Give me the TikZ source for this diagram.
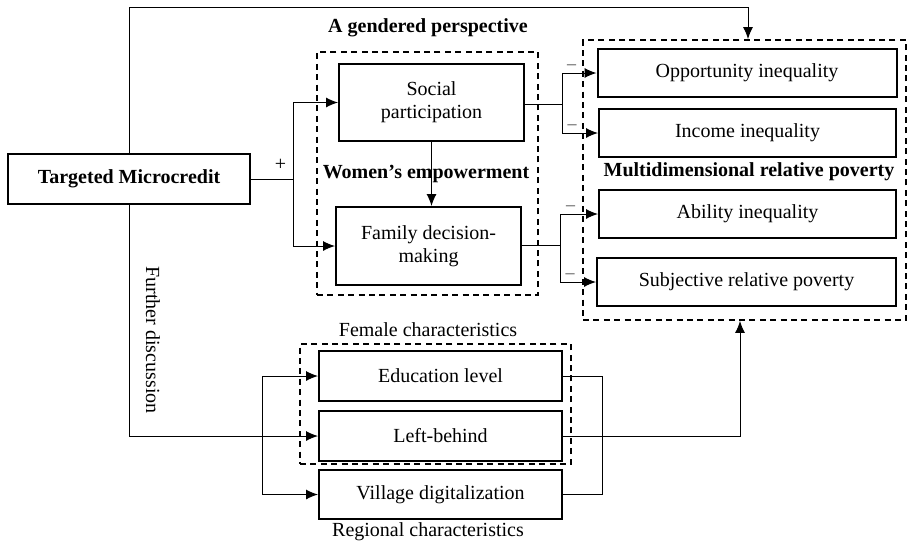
\documentclass[tikz,border=0pt]{standalone}
\usepackage{fontspec}
\setmainfont{Liberation Serif}
\usetikzlibrary{arrows.meta}

\tikzset{
  box/.style={draw, line width=1pt, inner sep=0pt, align=center,
    font=\fontsize{10}{11.5}\selectfont},
  group/.style={draw, dashed, line width=0.9pt, dash pattern=on 3pt off 2.2pt,
    inner sep=0pt},
  label/.style={inner sep=0pt, font=\fontsize{10}{11.5}\selectfont},
  link/.style={line width=0.5pt},
  arr/.style={link, -{Latex[length=6pt,width=5pt]}},
  minus/.style={inner sep=1.5pt, font=\fontsize{9}{10}\selectfont, text=black!70}
}

\begin{document}
\begin{tikzpicture}[x=0.5pt, y=-0.5pt]
  \useasboundingbox (0,0) rectangle (908,541);
  % dashed groups
  \node[group, minimum width=110.5pt, minimum height=121.5pt] (gp) at (427.5,173.5) {};
  \node[group, minimum width=161.5pt, minimum height=140pt] (mp) at (744.5,180) {};
  \node[group, minimum width=135.5pt, minimum height=60pt] (fc) at (435.5,404) {};
  % boxes
  \node[box, minimum width=121pt, minimum height=25pt] (tm) at (129,179) {\textbf{Targeted Microcredit}};
  \node[box, minimum width=92.5pt, minimum height=38.5pt] (sp) at (431.5,102.5) {Social\\participation};
  \node[box, minimum width=92.5pt, minimum height=39pt] (fd) at (428.5,246) {Family decision-\\making};
  \node[box, minimum width=149.5pt, minimum height=24pt] (op) at (747,73) {Opportunity inequality};
  \node[box, minimum width=148.5pt, minimum height=24pt] (ic) at (747.5,133) {Income inequality};
  \node[box, minimum width=148.5pt, minimum height=24pt] (ab) at (747.5,214) {Ability inequality};
  \node[box, minimum width=149.5pt, minimum height=24pt] (sr) at (746.5,282) {Subjective relative poverty};
  \node[box, minimum width=121.5pt, minimum height=25pt] (ed) at (440.5,376) {Education level};
  \node[box, minimum width=121.5pt, minimum height=25pt] (lb) at (440.5,436) {Left-behind};
  \node[box, minimum width=121.5pt, minimum height=24.5pt] (vd) at (440.5,494.5) {Village digitalization};
  % titles
  \node[label] (gpt) at (428,28) {\textbf{A gendered perspective}};
  \node[label] (wet) at (426,174) {\textbf{Women’s empowerment}};
  \node[label] (mpt) at (749,172) {\textbf{Multidimensional relative poverty}};
  \node[label] (fct) at (428,330) {Female characteristics};
  \node[label] (rct) at (428,532) {Regional characteristics};
  \node[label, rotate=-90] (fdt) at (153,340) {Further discussion};
  % junctions
  \coordinate (top) at (748,7);
  \coordinate (split1) at (293,179);
  \coordinate (split2) at (562,104);
  \coordinate (split3) at (560,245);
  \coordinate (split4) at (262,436);
  \coordinate (join) at (602,436);
  \coordinate (up) at (740,436);
  % connectors
  \draw[arr] (tm.north) |- (top) -- (top |- mp.north);
  \draw[arr] (tm.south) |- (lb.west);
  \draw[link] (tm.east) -- node[label, above=4pt, pos=0.7] (plus) {+} (split1);
  \draw[arr] (split1) |- (sp.west);
  \draw[arr] (split1) |- (fd.west);
  \draw[arr] (sp.south) -- (sp.south |- fd.north);
  \draw[link] (sp.east |- split2) -- (split2);
  \draw[arr] (split2) |- node[minus, above, pos=0.64] {--} (op.west);
  \draw[arr] (split2) |- node[minus, above, pos=0.64] {--} (ic.west);
  \draw[link] (fd.east |- split3) -- (split3);
  \draw[arr] (split3) |- node[minus, above, pos=0.64] {--} (ab.west);
  \draw[arr] (split3) |- node[minus, above, pos=0.64] {--} (sr.west);
  \draw[arr] (split4) |- (ed.west);
  \draw[arr] (split4) |- (vd.west);
  \draw[link] (ed.east) -| (join);
  \draw[link] (vd.east) -| (join);
  \draw[arr] (lb.east) -- (up) -- (up |- mp.south);
\end{tikzpicture}
\end{document}
